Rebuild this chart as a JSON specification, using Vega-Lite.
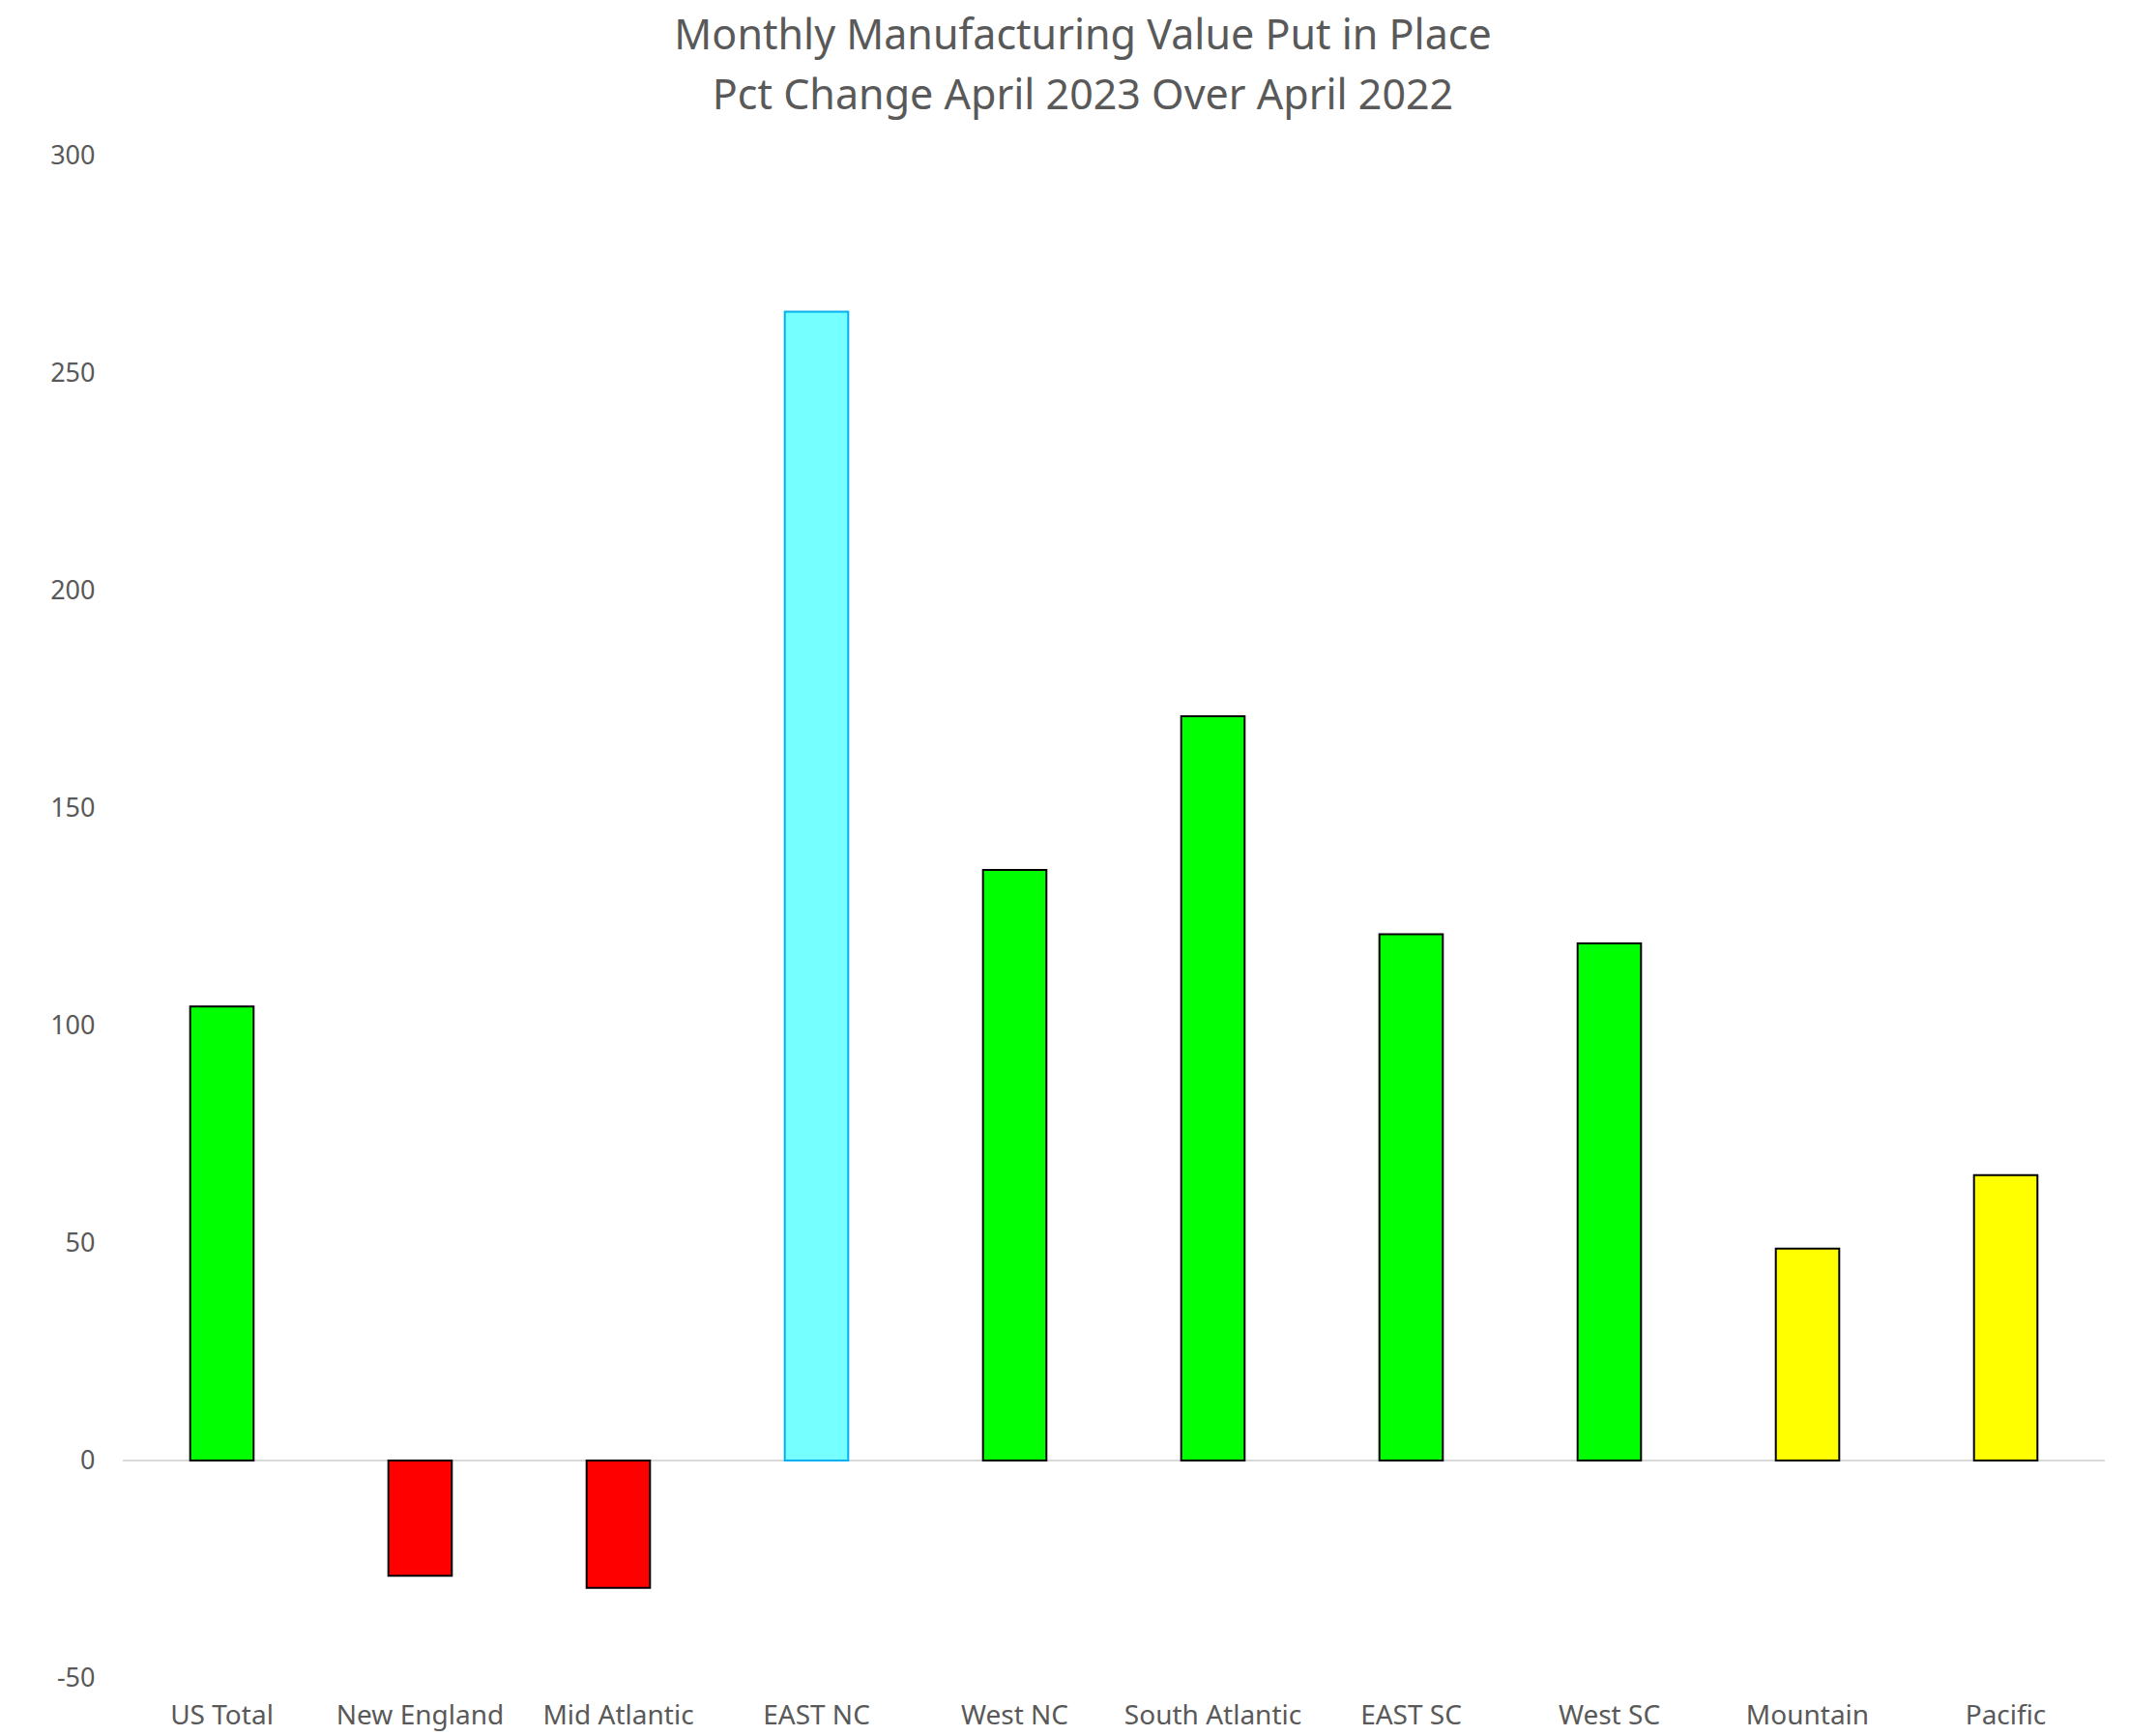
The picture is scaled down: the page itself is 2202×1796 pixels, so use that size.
{
  "$schema": "https://vega.github.io/schema/vega-lite/v6.json",
  "autosize": {"type": "none"},
  "width": 2050,
  "height": 1575,
  "padding": {"left": 127, "top": 161, "right": 25, "bottom": 60},
  "background": "white",
  "title": {
    "text": ["Monthly Manufacturing Value Put in Place", "Pct Change April 2023 Over April 2022"],
    "font": "Noto Sans",
    "fontSize": 43,
    "fontWeight": "normal",
    "color": "#595959",
    "lineHeight": 62,
    "anchor": "middle",
    "dx": -32,
    "offset": 25
  },
  "config": {"view": {"stroke": null}},
  "data": {
    "values": [
      {"region": "US Total", "pct": 104.4, "group": "up"},
      {"region": "New England", "pct": -26.5, "group": "down"},
      {"region": "Mid Atlantic", "pct": -29.3, "group": "down"},
      {"region": "EAST NC", "pct": 264.1, "group": "top"},
      {"region": "West NC", "pct": 135.8, "group": "up"},
      {"region": "South Atlantic", "pct": 171.1, "group": "up"},
      {"region": "EAST SC", "pct": 121.0, "group": "up"},
      {"region": "West SC", "pct": 118.9, "group": "up"},
      {"region": "Mountain", "pct": 48.7, "group": "mid"},
      {"region": "Pacific", "pct": 65.6, "group": "mid"}
    ]
  },
  "layer": [
    {
      "mark": {"type": "rule", "color": "#d9d9d9", "strokeWidth": 2},
      "encoding": {"y": {"datum": 0, "type": "quantitative", "scale": {"domain": [-50, 300], "nice": false}}}
    },
    {
      "mark": {"type": "bar", "strokeWidth": 2},
      "encoding": {
        "x": {
          "field": "region",
          "type": "nominal",
          "sort": null,
          "scale": {"paddingInner": 0.68, "paddingOuter": 0.34},
          "axis": {
            "title": null,
            "domain": false,
            "ticks": false,
            "labelAngle": 0,
            "labelLimit": 0,
            "labelFont": "Noto Sans",
            "labelFontSize": 28,
            "labelColor": "#595959",
            "labelPadding": 25
          }
        },
        "y": {
          "field": "pct",
          "type": "quantitative",
          "scale": {"domain": [-50, 300], "nice": false},
          "axis": {
            "title": null,
            "domain": false,
            "ticks": false,
            "grid": false,
            "values": [-50, 0, 50, 100, 150, 200, 250, 300],
            "labelExpr": "'' + datum.value",
            "labelFont": "Noto Sans",
            "labelFontSize": 27,
            "labelColor": "#595959",
            "labelPadding": 29
          }
        },
        "fill": {
          "field": "group",
          "type": "nominal",
          "scale": {"domain": ["up", "down", "top", "mid"], "range": ["#00ff00", "#ff0000", "#75ffff", "#ffff00"]},
          "legend": null
        },
        "stroke": {
          "field": "group",
          "type": "nominal",
          "scale": {"domain": ["up", "down", "top", "mid"], "range": ["#000000", "#000000", "#00b0f0", "#000000"]},
          "legend": null
        }
      }
    }
  ]
}
